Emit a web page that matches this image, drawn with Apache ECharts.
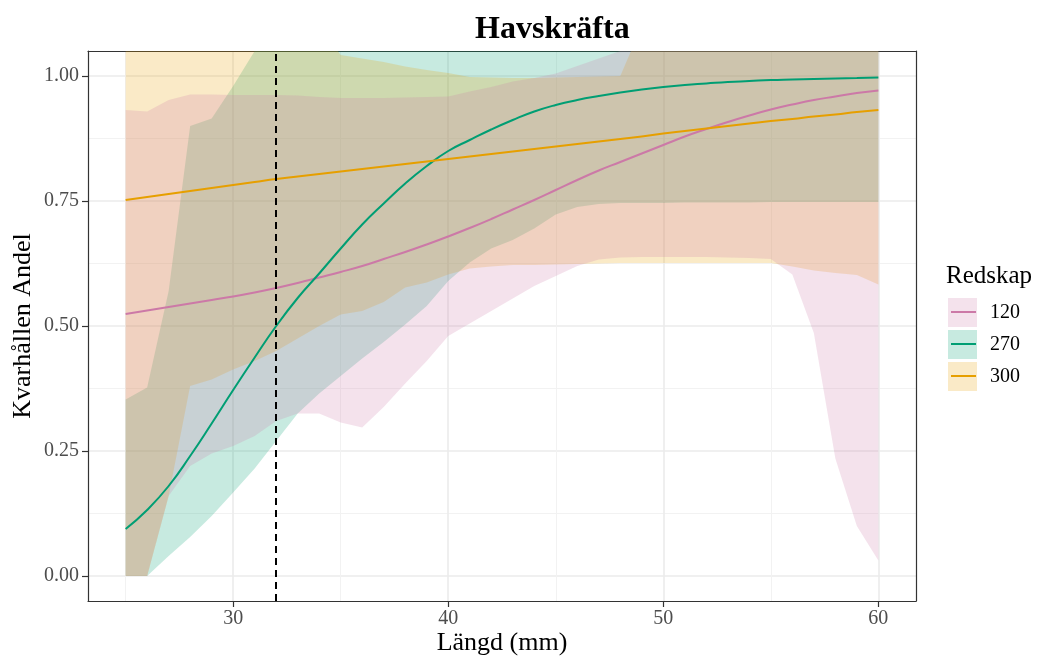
<!DOCTYPE html>
<html>
<head>
<meta charset="utf-8">
<title>Havskräfta</title>
<script src="https://cdn.jsdelivr.net/npm/echarts@6/dist/echarts.min.js"></script>
<style>
  html, body { margin: 0; padding: 0; background: #fff; }
  #main { width: 1039px; height: 657px; }
</style>
</head>
<body>
<div id="main"></div>
<script>
// längd (mm)
const lengths = [25, 26, 27, 28, 29, 30, 31, 32, 33, 34, 35, 36, 37, 38, 39, 40, 41, 42,
  43, 44, 45, 46, 47, 48, 49, 50, 51, 52, 53, 54, 55, 56, 57, 58, 59, 60]

// predikterad andel per redskap
const fit120 = [0.524, 0.531, 0.538, 0.545, 0.552, 0.559, 0.567, 0.576, 0.586, 0.597, 0.608, 0.620,
  0.634, 0.648, 0.663, 0.679, 0.696, 0.714, 0.733, 0.752, 0.772, 0.792, 0.811, 0.828,
  0.845, 0.862, 0.879, 0.894, 0.908, 0.921, 0.933, 0.943, 0.952, 0.959, 0.966, 0.971]
const fit270 = [0.094, 0.132, 0.180, 0.240, 0.305, 0.372, 0.437, 0.500, 0.556, 0.605, 0.655, 0.703,
  0.745, 0.785, 0.820, 0.850, 0.872, 0.893, 0.912, 0.929, 0.942, 0.952, 0.960, 0.967,
  0.973, 0.978, 0.982, 0.985, 0.988, 0.990, 0.992, 0.993, 0.994, 0.995, 0.996, 0.997]
const fit300 = [0.752, 0.758, 0.764, 0.770, 0.776, 0.782, 0.788, 0.794, 0.799, 0.804, 0.809, 0.814,
  0.819, 0.824, 0.829, 0.834, 0.839, 0.844, 0.849, 0.854, 0.859, 0.864, 0.869, 0.874,
  0.879, 0.885, 0.890, 0.895, 0.900, 0.905, 0.910, 0.914, 0.919, 0.923, 0.928, 0.932]

// konfidensband (nedre / övre)
const lo120 = [0, 0, 0.16, 0.22, 0.245, 0.26, 0.28, 0.31, 0.325, 0.325, 0.307, 0.297,
  0.338, 0.385, 0.43, 0.48, 0.505, 0.53, 0.555, 0.58, 0.60, 0.62, 0.633, 0.637,
  0.638, 0.638, 0.638, 0.638, 0.637, 0.636, 0.634, 0.603, 0.486, 0.235, 0.10, 0.031]
const hi120 = [0.932, 0.929, 0.952, 0.963, 0.963, 0.962, 0.962, 0.962, 0.961, 0.958, 0.956, 0.956,
  0.956, 0.957, 0.958, 0.959, 0.969, 0.978, 0.989, 0.996, 1.005, 1.02, 1.035, 1.05,
  1.1, 1.1, 1.1, 1.1, 1.1, 1.1, 1.1, 1.1, 1.1, 1.1, 1.1, 1.1]
const lo270 = [0, 0, 0.04, 0.078, 0.12, 0.167, 0.215, 0.27, 0.325, 0.365, 0.40, 0.435,
  0.468, 0.503, 0.54, 0.59, 0.627, 0.655, 0.672, 0.695, 0.723, 0.738, 0.744, 0.746,
  0.746, 0.746, 0.747, 0.747, 0.747, 0.747, 0.748, 0.748, 0.748, 0.748, 0.748, 0.748]
const hi270 = [0.353, 0.377, 0.57, 0.90, 0.915, 0.98, 1.05, 1.1, 1.1, 1.1, 1.1, 1.1,
  1.1, 1.1, 1.1, 1.1, 1.1, 1.1, 1.1, 1.1, 1.1, 1.1, 1.1, 1.1,
  1.1, 1.1, 1.1, 1.1, 1.1, 1.1, 1.1, 1.1, 1.1, 1.1, 1.1, 1.1]
const lo300 = [0, 0, 0.16, 0.38, 0.393, 0.413, 0.43, 0.45, 0.475, 0.50, 0.523, 0.53,
  0.548, 0.577, 0.587, 0.603, 0.615, 0.619, 0.622, 0.622, 0.623, 0.624, 0.625, 0.626,
  0.626, 0.626, 0.626, 0.626, 0.626, 0.626, 0.626, 0.619, 0.611, 0.606, 0.602, 0.583]
const hi300 = [1.1, 1.1, 1.1, 1.1, 1.1, 1.1, 1.1, 1.1, 1.1, 1.1, 1.042, 1.035,
  1.028, 1.019, 1.012, 1.006, 0.998, 0.997, 0.996, 0.996, 0.997, 0.998, 0.999, 1.0,
  1.1, 1.1, 1.1, 1.1, 1.1, 1.1, 1.1, 1.1, 1.1, 1.1, 1.1, 1.1]

// axlar
const xTicks = [30, 40, 50, 60]
const xMinor = [25, 35, 45, 55]
const yTicks = [0, 0.25, 0.5, 0.75, 1]
const yMinor = [0.125, 0.375, 0.625, 0.875]
const cutoff = 32

const FONT = 'Liberation Serif, Times New Roman, serif'
const colors = { '120': '#CC79A7', '270': '#009E73', '300': '#E69F00' }
const BAND_ALPHA = 0.22

function hexToRgba(hex, a) {
  const n = parseInt(hex.slice(1), 16)
  return `rgba(${(n >> 16) & 255},${(n >> 8) & 255},${n & 255},${a})`
}

// ett band ritas som en polygon: övre kanten fram, nedre tillbaka
function bandSeries(name, lo, hi) {
  return {
    name: name,
    type: 'custom',
    clip: true,
    silent: true,
    itemStyle: { color: hexToRgba(colors[name], BAND_ALPHA) },
    encode: { x: 0, y: [1, 2] },
    data: lengths.map((x, i) => [x, lo[i], hi[i]]),
    renderItem: function (params, api) {
      if (params.dataIndex !== 0) return
      const pts = []
      for (let i = 0; i < lengths.length; i++) pts.push(api.coord([lengths[i], hi[i]]))
      for (let i = lengths.length - 1; i >= 0; i--) pts.push(api.coord([lengths[i], lo[i]]))
      return {
        type: 'polygon',
        shape: { points: pts },
        style: { fill: hexToRgba(colors[name], BAND_ALPHA) }
      }
    }
  }
}

function lineSeries(name, values) {
  return {
    name: 'l' + name,
    type: 'line',
    smooth: true,
    showSymbol: false,
    silent: true,
    z: 3,
    lineStyle: { color: colors[name], width: 2 },
    itemStyle: { color: colors[name] },
    data: lengths.map((x, i) => [x, values[i]])
  }
}

const gridLine = { color: '#EBEBEB', width: 1.6 }
const minorLine = { color: '#F2F2F2', width: 1 }
const axisDark = { color: '#333', width: 1.2 }

const chart = echarts.init(document.getElementById('main'))

const dashSeries = lineSeries('300', fit300)
dashSeries.markLine = {
  silent: true,
  symbol: 'none',
  label: { show: false },
  lineStyle: { color: '#000', width: 2, type: [7, 5] },
  data: [{ xAxis: cutoff }]
}

const option = {
  animation: false,
  backgroundColor: '#fff',
  title: [
    {
      text: 'Havskräfta',
      left: 470,
      top: 9,
      textStyle: { fontFamily: FONT, fontWeight: 'bold', fontSize: 32, color: '#000' }
    },
    {
      text: 'Redskap',
      left: 946,
      top: 264,
      padding: 0,
      textStyle: { fontFamily: FONT, fontWeight: 'normal', fontSize: 25, color: '#000' }
    }
  ],
  grid: {
    left: 88,
    top: 51,
    width: 828,
    height: 550,
    outerBoundsMode: 'none',
    containLabel: false,
    show: false
  },
  legend: [
    {
      // fyllda rutor + text
      orient: 'vertical',
      left: 948,
      top: 298,
      padding: 0,
      itemWidth: 29,
      itemHeight: 29,
      itemGap: 3,
      selectedMode: false,
      icon: 'rect',
      textStyle: { fontFamily: FONT, fontSize: 20, color: '#000', padding: [0, 0, 0, 8] },
      data: ['120', '270', '300'].map(n => ({
        name: n,
        itemStyle: { color: hexToRgba(colors[n], BAND_ALPHA), borderWidth: 0 }
      }))
    },
    {
      // linjerna ovanpå rutorna
      orient: 'vertical',
      left: 951,
      top: 311,
      padding: 0,
      itemWidth: 25,
      itemHeight: 2,
      itemGap: 30,
      selectedMode: false,
      icon: 'rect',
      formatter: () => '',
      textStyle: { fontSize: 1 },
      data: ['120', '270', '300'].map(n => ({
        name: 'l' + n,
        itemStyle: { color: colors[n], borderWidth: 0 }
      }))
    }
  ],
  xAxis: [
    {
      type: 'value',
      position: 'bottom',
      min: 23.25,
      max: 61.75,
      name: 'Längd (mm)',
      nameLocation: 'middle',
      nameGap: 29,
      nameMoveOverlap: false,
      nameTextStyle: { fontFamily: FONT, fontSize: 26, color: '#000' },
      axisLine: { show: true, onZero: false, lineStyle: axisDark },
      axisTick: { show: true, inside: false, customValues: xTicks, length: 6, lineStyle: axisDark },
      axisLabel: { customValues: xTicks, fontFamily: FONT, fontSize: 20, color: '#4D4D4D', margin: 8 },
      splitLine: { show: true, lineStyle: gridLine }
    },
    {
      // övre kanten av panelen + mindre rutnät
      type: 'value',
      position: 'top',
      min: 23.25,
      max: 61.75,
      axisLine: { show: true, onZero: false, lineStyle: axisDark },
      axisTick: { show: false, customValues: xMinor },
      axisLabel: { show: false, customValues: xMinor },
      splitLine: { show: true, lineStyle: minorLine }
    }
  ],
  yAxis: [
    {
      type: 'value',
      position: 'left',
      min: -0.05,
      max: 1.05,
      name: 'Kvarhållen Andel',
      nameLocation: 'middle',
      nameGap: 52,
      nameMoveOverlap: false,
      nameTextStyle: { fontFamily: FONT, fontSize: 26, color: '#000' },
      axisLine: { show: true, onZero: false, lineStyle: axisDark },
      axisTick: { show: true, inside: false, customValues: yTicks, length: 6, lineStyle: axisDark },
      axisLabel: {
        customValues: yTicks,
        fontFamily: FONT,
        fontSize: 20,
        color: '#4D4D4D',
        margin: 9,
        formatter: v => v.toFixed(2)
      },
      splitLine: { show: true, lineStyle: gridLine }
    },
    {
      // högra kanten av panelen + mindre rutnät
      type: 'value',
      position: 'right',
      min: -0.05,
      max: 1.05,
      axisLine: { show: true, onZero: false, lineStyle: axisDark },
      axisTick: { show: false, customValues: yMinor },
      axisLabel: { show: false, customValues: yMinor },
      splitLine: { show: true, lineStyle: minorLine }
    }
  ],
  series: [
    bandSeries('270', lo270, hi270),
    bandSeries('300', lo300, hi300),
    bandSeries('120', lo120, hi120),
    lineSeries('120', fit120),
    lineSeries('270', fit270),
    dashSeries
  ]
}

chart.setOption(option)
</script>
</body>
</html>
